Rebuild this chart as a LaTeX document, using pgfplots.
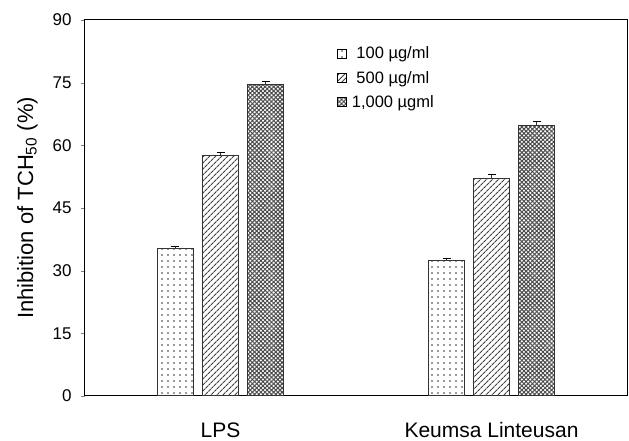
\documentclass[border=0pt]{standalone}
\usepackage{pgfplots}
\pgfplotsset{compat=1.18}
\usepackage{fontspec}
\setmainfont{Liberation Sans}
\usetikzlibrary{patterns.meta}
\begin{document}
\begin{tikzpicture}
\begin{axis}[
    scale only axis,
    width=542pt, height=376pt,
    ybar=9pt, bar width=36pt,
    xmin=-0.5, xmax=1.5,
    ymin=0, ymax=90,
    ytick={0,15,...,90},
    xtick={0,1},
    xticklabels={LPS, Keumsa Linteusan},
    x tick style={draw=none},
    ytick pos=left,
    tick align=outside,
    major tick length=4pt,
    /pgf/number format/assume math mode=true,
    yticklabel style={font=\fontsize{17}{20}\selectfont, xshift=-6pt},
    xticklabel style={font=\fontsize{21}{24}\selectfont, yshift=-19pt},
    ylabel={Inhibition of TCH\textsubscript{50} (\%)},
    ylabel style={font=\fontsize{22}{24}\selectfont, yshift=8pt},
    axis line style={line width=1pt},
    legend style={at={(0.465,0.935)}, anchor=north west, draw=none, fill=none,
        font=\fontsize{16.5}{19}\selectfont, row sep=7pt, inner sep=0pt,
        nodes={inner xsep=5pt}},
    legend image code/.code={\draw[#1, draw=black, line width=0.6pt] (0pt,-4.5pt) rectangle (9pt,4.5pt);},
    error bars/y dir=plus, error bars/y explicit,
    error bars/error mark options={rotate=90, mark size=4pt, line width=0.8pt},
    error bars/error bar style={line width=0.8pt},
]
\addplot[draw=black!80, line width=1pt, pattern={Dots[distance=6pt, radius=0.8pt]}, pattern color=black!80]
    coordinates {(0,35.2) +- (0,0.5) (1,32.4) +- (0,0.5)};
\addplot[draw=black!80, line width=1pt, pattern={Lines[angle=45, distance=4pt, line width=1.1pt]}, pattern color=black!75]
    coordinates {(0,57.6) +- (0,0.8) (1,52.0) +- (0,1.0)};
\addplot[draw=black!80, line width=1pt, pattern={Hatch[angle=45, distance=3pt, line width=1pt]}, pattern color=black!70]
    coordinates {(0,74.5) +- (0,0.8) (1,64.8) +- (0,1.0)};
\legend{100 µg/ml, 500 µg/ml, {1,000 µgml}}
\end{axis}
\pgfresetboundingbox
\path[use as bounding box] ([xshift=-85pt,yshift=-45pt]current axis.south west) rectangle ([xshift=2pt,yshift=20pt]current axis.north east);
\end{tikzpicture}
\end{document}
